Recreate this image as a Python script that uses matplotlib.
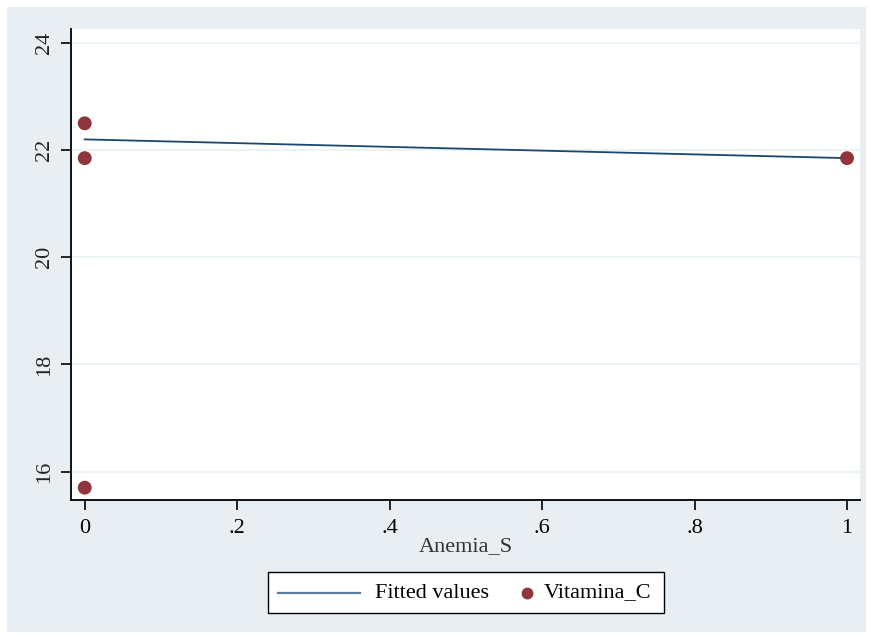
import matplotlib.pyplot as plt
from matplotlib.patches import Rectangle
from matplotlib.lines import Line2D

# scatter data: Vitamina_C against Anemia_S
anemia_s = [0, 0, 0, 1]
vitamina_c = [22.5, 21.85, 15.7, 21.85]

# linear fit, evaluated at the ends of the x range
fit_x = [0, 1]
fit_y = [22.2, 21.85]

y_ticks = [16, 18, 20, 22, 24]
x_ticks = [0, 0.2, 0.4, 0.6, 0.8, 1]
x_ticklabels = ['0', '.2', '.4', '.6', '.8', '1']
legend_labels = ['Fitted values', 'Vitamina_C']

navy = '#1a476f'
maroon = '#90353b'
bg = '#e8eef1'

plt.rcParams['font.family'] = ['Liberation Serif', 'DejaVu Serif']

W, H = 871, 638
fig = plt.figure(figsize=(W / 100, H / 100), dpi=100, facecolor='white')


def fx(px):
    return px / W


def fy(py):
    return 1 - py / H


# outer graph region
fig.patches.append(Rectangle((fx(7), fy(632)), 859 / W, 625 / H,
                             transform=fig.transFigure, facecolor=bg,
                             edgecolor='none', zorder=-10))

ax = fig.add_axes([fx(71), fy(500), 789 / W, 471 / H])
ax.set_facecolor('white')

ax.plot(fit_x, fit_y, color=navy, lw=1.3, zorder=3)
ax.scatter(anemia_s, vitamina_c, s=100, color=maroon, edgecolor='none',
           zorder=4, clip_on=False)

ax.set_xlim(-0.018, 1.017)
ax.set_ylim(15.47, 24.26)
ax.set_yticks(y_ticks)
ax.set_yticklabels([str(v) for v in y_ticks], rotation=90, va='center')
ax.set_xticks(x_ticks)
ax.set_xticklabels(x_ticklabels)
ax.tick_params(labelsize=16, length=7, width=1.2, color='black', pad=7)
ax.tick_params(axis='y', pad=5, labelcolor='#222222')

ax.grid(axis='y', color='#eaf2f3', lw=1.3)
ax.set_axisbelow(True)

for side in ['top', 'right']:
    ax.spines[side].set_visible(False)
for side in ['left', 'bottom']:
    ax.spines[side].set_linewidth(1.3)

ax.set_xlabel('Anemia_S', fontsize=16, color='#333333', labelpad=-1)

# legend box drawn by hand: line key, marker key, labels
fig.add_artist(Rectangle((fx(268), fy(613)), 396 / W, 41 / H,
                         transform=fig.transFigure, facecolor='white',
                         edgecolor='black', lw=1.0))
ly = fy(593)
fig.add_artist(Line2D([fx(278), fx(360)], [ly, ly], transform=fig.transFigure,
                      color='#5a7fa6', lw=1.6))
fig.text(fx(375), ly, legend_labels[0], fontsize=16, va='center', ha='left')
fig.add_artist(Line2D([fx(527)], [ly], transform=fig.transFigure,
                      marker='o', ls='none', color=maroon, markersize=7.5))
fig.text(fx(544), ly, legend_labels[1], fontsize=16, va='center', ha='left')

fig.savefig('out.png', dpi=100)
